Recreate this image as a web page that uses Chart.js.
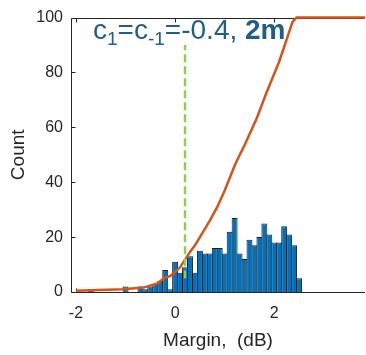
<!DOCTYPE html>
<html>
<head>
<meta charset="utf-8">
<script src="https://cdn.jsdelivr.net/npm/chart.js@4.4.1/dist/chart.umd.min.js"></script>
<style>
  html, body { margin: 0; padding: 0; background: #fff; }
  #wrap { width: 366px; height: 355px; }
</style>
</head>
<body>
<div id="wrap"><canvas id="chart" width="366" height="355"></canvas></div>
<script>
// histogram of margins, bins 0.1 dB wide (centres)
const binCenters = [-1.7, -1.0, -0.7, -0.6, -0.5, -0.4, -0.3, -0.2, -0.1, 0.0,
  0.1, 0.2, 0.3, 0.4, 0.5, 0.6, 0.7, 0.8, 0.9, 1.0,
  1.1, 1.2, 1.3, 1.4, 1.5, 1.6, 1.7, 1.8, 1.9, 2.0,
  2.1, 2.2, 2.3, 2.4, 2.5]
const counts = [1, 2, 2, 1, 2, 3, 4, 8, 1, 11,
  7, 9, 13, 7, 15, 14, 14, 16, 16, 14,
  22, 27, 14, 12, 19, 17, 20, 25, 21, 18,
  18, 24, 21, 17, 5]

// cumulative curve (percent)
const cdfX = [-2.0, -1.05, -0.64, -0.37, -0.2, -0.1, 0.0, 0.1, 0.2, 0.3, 0.4, 0.5,
  0.7, 0.85, 1.0, 1.2, 1.25, 1.4, 1.65, 1.85, 2.1, 2.37, 2.45, 3.83]
const cdfY = [0.5, 1, 1.6, 3, 5.3, 5.8, 7.3, 9, 11.8, 14.6, 17, 20,
  26, 31, 37, 46, 48, 53.5, 63.5, 73, 84, 98.5, 100, 100]

// green marker
const markerX = 0.2
const markerY = [5, 90]

const xTicks = [-2, 0, 2]
const yTicks = [0, 20, 40, 60, 80, 100]

const axisColor = "#262626"
const font = "'Liberation Sans', Arial, sans-serif"

// box lines and inner ticks, under the data
const framePlugin = {
  id: "frame",
  beforeDatasetsDraw(chart) {
    const { ctx, chartArea: a, scales } = chart
    const x = scales.x
    const y = scales.y
    ctx.save()
    ctx.strokeStyle = axisColor
    ctx.lineWidth = 1
    ctx.beginPath()
    const top = Math.round(a.top) + 0.5
    const bottom = Math.round(a.bottom) + 0.5
    const left = Math.round(a.left) + 0.5
    ctx.moveTo(left, top); ctx.lineTo(a.right, top)
    ctx.moveTo(left, bottom); ctx.lineTo(a.right, bottom)
    ctx.moveTo(left, top); ctx.lineTo(left, bottom)
    xTicks.forEach((v) => {
      const px = Math.round(x.getPixelForValue(v)) + 0.5
      ctx.moveTo(px, bottom); ctx.lineTo(px, bottom - 4)
      ctx.moveTo(px, top); ctx.lineTo(px, top + 4)
    })
    yTicks.forEach((v) => {
      const py = Math.round(y.getPixelForValue(v)) + 0.5
      ctx.moveTo(left, py); ctx.lineTo(left + 4, py)
    })
    ctx.stroke()
    ctx.restore()
  },
  // c1=c-1=-0.4, 2m
  afterDatasetsDraw(chart) {
    const { ctx, chartArea: a } = chart
    const size = 28
    const parts = [
      ["c", size, 0, "normal"],
      ["1", size * 0.68, 6, "normal"],
      ["=c", size, 0, "normal"],
      ["-1", size * 0.68, 6, "normal"],
      ["=-0.4, ", size, 0, "normal"],
      ["2m", size, 0, "bold"],
    ]
    ctx.save()
    ctx.fillStyle = "#1f5e8a"
    ctx.textBaseline = "alphabetic"
    let tx = a.left + 22
    const base = a.top + 21
    parts.forEach(([t, s, dy, w]) => {
      ctx.font = `${w} ${s}px ${font}`
      ctx.fillText(t, tx, base + dy)
      tx += ctx.measureText(t).width
    })
    ctx.restore()
  },
}

const ctx = document.getElementById("chart")

new Chart(ctx, {
  type: "bar",
  data: {
    datasets: [
      {
        type: "line",
        data: [{ x: markerX, y: markerY[0] }, { x: markerX, y: markerY[1] }],
        borderColor: "#8dcf4e",
        borderWidth: 2.5,
        borderDash: [8, 4],
        pointRadius: 0,
        order: 1,
      },
      {
        type: "line",
        data: cdfX.map((v, i) => ({ x: v, y: cdfY[i] })),
        borderColor: "#d95319",
        borderWidth: 2.5,
        pointRadius: 0,
        tension: 0,
        clip: 4,
        order: 2,
      },
      {
        type: "bar",
        data: binCenters.map((v, i) => ({ x: v, y: counts[i] })),
        backgroundColor: "#0072bd",
        borderColor: "#1e1e1e",
        borderWidth: 1,
        barPercentage: 1.2,
        categoryPercentage: 1,
        grouped: false,
        order: 3,
      },
    ],
  },
  options: {
    responsive: false,
    animation: false,
    layout: { padding: { top: 16, right: 1, left: 0, bottom: 0 } },
    plugins: { legend: { display: false }, tooltip: { enabled: false } },
    scales: {
      x: {
        type: "linear",
        min: -2.1,
        max: 3.83,
        offset: false,
        grid: { display: false, drawTicks: false, offset: false },
        border: { display: false },
        ticks: { color: axisColor, font: { family: font, size: 16 }, padding: 12 },
        title: {
          display: true,
          text: "Margin,  (dB)",
          color: axisColor,
          font: { family: font, size: 19 },
          padding: { top: 0, bottom: 3 },
        },
        afterBuildTicks: (s) => { s.ticks = xTicks.map((v) => ({ value: v })) },
        afterFit: (s) => { s.height = 63 },
      },
      y: {
        min: 0,
        max: 100,
        grid: { display: false, drawTicks: false },
        border: { display: false },
        ticks: { color: axisColor, font: { family: font, size: 16 }, padding: 8 },
        title: {
          display: true,
          text: "Count",
          color: axisColor,
          font: { family: font, size: 19 },
          padding: { top: 7, bottom: 0 },
        },
        afterBuildTicks: (s) => { s.ticks = yTicks.map((v) => ({ value: v })) },
        afterFit: (s) => { s.width = 71 },
      },
    },
  },
  plugins: [framePlugin],
})
</script>
</body>
</html>
